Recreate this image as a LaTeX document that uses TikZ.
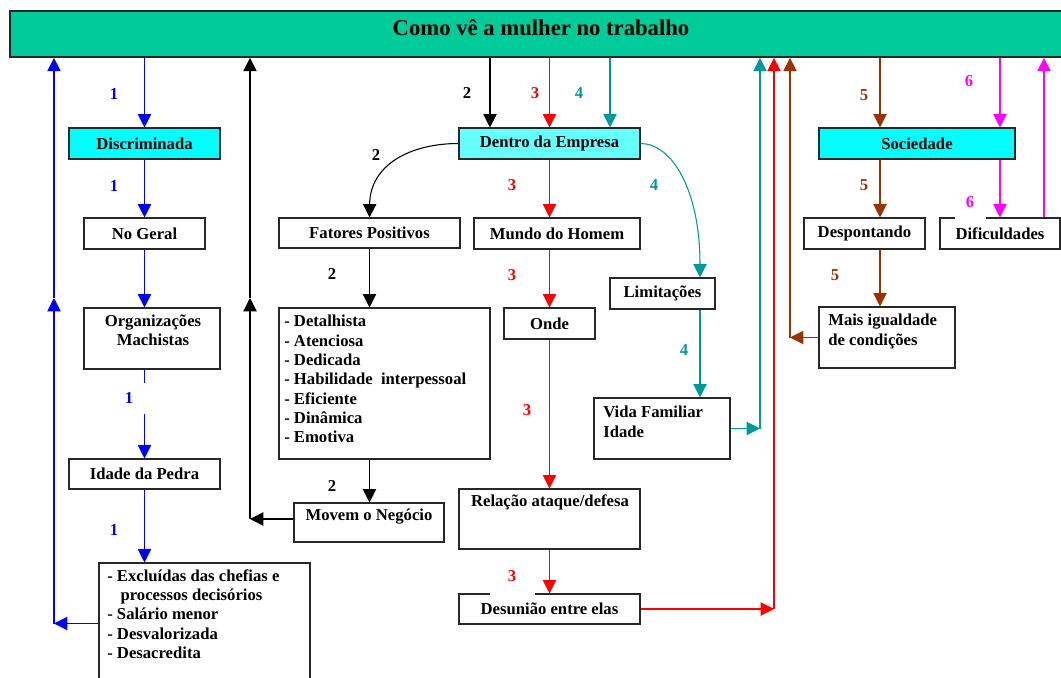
\documentclass[tikz,border=0pt]{standalone}
\usepackage{fontspec}
\setmainfont{Liberation Serif}
\usetikzlibrary{arrows.meta}
\definecolor{barfill}{RGB}{0,204,153}
\definecolor{cyanbox}{RGB}{0,255,255}
\definecolor{lightcyan}{RGB}{102,255,255}
\definecolor{tealc}{RGB}{0,153,153}
\definecolor{brownc}{RGB}{153,51,0}
\definecolor{magc}{RGB}{255,0,255}
\definecolor{bluec}{RGB}{0,0,255}
\definecolor{redc}{RGB}{255,0,0}
\definecolor{edge}{RGB}{40,40,40}
\begin{document}
\begin{tikzpicture}[x=0.75pt,y=-0.75pt,
  font=\fontsize{12.5}{14.5}\selectfont\bfseries,
  box/.style={draw=edge,line width=0.8pt,inner sep=0pt},
  sz/.style 2 args={minimum width=#1*0.75pt,minimum height=#2*0.75pt},
  con/.style={line width=0.8pt,-{Triangle[length=10pt,width=10pt]}},
  num/.style={inner sep=1pt},
  gapnum/.style={inner sep=0pt,fill=white},
  txt/.style={inner sep=0pt,align=left,anchor=north west}]
\useasboundingbox (0,0) rectangle (1061,678);
\clip (0,0) rectangle (1061,678);

% header bar
\node[draw=edge,line width=1.3pt,fill=barfill,sz={1060}{46},inner sep=0pt] (bar) at (540,34) {};
\node[font=\fontsize{17}{20}\selectfont\bfseries] (title) at (541,28) {Como vê a mulher no trabalho};

% left column
\node[box,fill=cyanbox,sz={151}{31}] (disc) at (144.5,143.5) {Discriminada};
\node[box,sz={121}{31}] (geral) at (144.5,233.5) {No Geral};
\node[box,sz={136}{61}] (org) at (152,338.5) {};
\node[inner sep=0pt,align=center] (orgt) at (153,330) {Organizações\\Machistas};
\node[box,sz={151}{30}] (idade) at (144.5,474) {Idade da Pedra};
\node[box,sz={211}{121}] (exc) at (204.5,623.5) {};
\node[txt] (exct) at (107,569) {- Excluídas das chefias e\\\hspace*{0.8em}processos decisórios\\- Salário menor\\- Desvalorizada\\- Desacredita};

% second column
\node[box,sz={181}{30}] (fat) at (369.5,233) {Fatores Positivos};
\node[box,sz={211}{151}] (list) at (384.5,383.5) {};
\node[txt] (listt) at (284,315) {- Detalhista\\- Atenciosa\\- Dedicada\\- Habilidade~ interpessoal\\- Eficiente\\- Dinâmica\\- Emotiva};
\node[box,sz={150}{39}] (movem) at (369,522.5) {};
\node[inner sep=0pt] (movemt) at (369,517) {Movem o Negócio};

% middle column
\node[box,fill=lightcyan,sz={181}{31}] (dentro) at (549.5,143.5) {Dentro da Empresa};
\node[box,sz={166}{31}] (mundo) at (557,233.5) {Mundo do Homem};
\node[box,sz={91}{31}] (onde) at (549.5,323.5) {Onde};
\node[box,sz={181}{60}] (rel) at (549.5,519) {};
\node[inner sep=0pt] (relt) at (550,502) {Relação ataque/defesa};
\node[box,sz={181}{30}] (des) at (549.5,609) {Desunião entre elas};
\node[box,sz={105}{31}] (lim) at (662.5,293.5) {Limitações};
\node[box,sz={136}{61}] (vida) at (662,428.5) {};
\node[txt] (vidat) at (603,406) {Vida Familiar\\Idade};

% right column
\node[box,fill=cyanbox,sz={196}{31}] (soc) at (917,143.5) {Sociedade};
\node[box,sz={121}{31}] (desp) at (864.5,233.5) {Despontando};
\node[box,sz={120}{31}] (dif) at (1000,233.5) {Dificuldades};
\node[box,sz={136}{61}] (mais) at (887,337.5) {};
\node[txt] (maist) at (828,314) {Mais igualdade\\de condições};

% routing points
\coordinate (bX) at (54,623.5);
\coordinate (bM) at (54,298);
\coordinate (kX) at (250,519);
\coordinate (kM) at (250,298);
\coordinate (k2) at (490,0);
\coordinate (t4) at (610,0);
\coordinate (tV) at (700,0);
\coordinate (tX) at (760,428.5);
\coordinate (rX) at (774,609);
\coordinate (nX) at (790,337.5);
\coordinate (b5) at (880,0);
\coordinate (m6) at (1000,0);
\coordinate (mR) at (1044,0);

% path 1 (blue)
\draw[con,bluec] (bar.south -| disc.north) -- (disc.north);
\draw[con,bluec] (disc.south) -- (geral.north);
\draw[con,bluec] (geral.south) -- (geral.south |- org.north);
\draw[con,bluec] (geral.south |- org.south) -- (geral.south |- idade.north);
\draw[con,bluec] (idade.south) -- (idade.south |- exc.north);
\draw[con,bluec] (exc.west) -- (bX);
\draw[con,bluec] (bX) -- (bM);
\draw[con,bluec] (bM) -- (bM |- bar.south);

% path 2 (black)
\draw[con] (bar.south -| k2) -- (k2 |- dentro.north);
\draw[con] (dentro.west) .. controls (410,143.5) and (370,165) .. (fat.north);
\draw[con] (fat.south) -- (fat.south |- list.north);
\draw[con] (fat.south |- list.south) -- (fat.south |- movem.north);
\draw[con] (movem.west |- kX) -- (kX);
\draw[con] (kX) -- (kM);
\draw[con] (kM) -- (kM |- bar.south);

% path 3 (red)
\draw[con,redc] (bar.south -| dentro.north) -- (dentro.north);
\draw[con,redc] (dentro.south) -- (dentro.south |- mundo.north);
\draw[con,redc] (dentro.south |- mundo.south) -- (onde.north);
\draw[con,redc] (onde.south) -- (rel.north);
\draw[con,redc] (rel.south) -- (des.north);
\draw[con,redc] (des.east) -- (rX);
\draw[con,redc] (rX) -- (rX |- bar.south);

% path 4 (teal)
\draw[con,tealc] (bar.south -| t4) -- (t4 |- dentro.north);
\draw[con,tealc] (dentro.east) .. controls (672,143.5) and (700,190) .. (tV |- lim.north);
\draw[con,tealc] (tV |- lim.south) -- (tV |- vida.north);
\draw[con,tealc] (vida.east) -- (tX);
\draw[con,tealc] (tX) -- (tX |- bar.south);

% path 5 (brown)
\draw[con,brownc] (bar.south -| b5) -- (b5 |- soc.north);
\draw[con,brownc] (b5 |- soc.south) -- (b5 |- desp.north);
\draw[con,brownc] (b5 |- desp.south) -- (b5 |- mais.north);
\draw[con,brownc] (mais.west) -- (nX);
\draw[con,brownc] (nX) -- (nX |- bar.south);

% path 6 (magenta)
\draw[con,magc] (bar.south -| m6) -- (m6 |- soc.north);
\draw[con,magc] (m6 |- soc.south) -- (dif.north);
\draw[con,magc] (mR |- dif.north) -- (mR |- bar.south);

% step numbers
\node[num,text=bluec] (n1a) at (114,94) {1};
\node[num,text=bluec] (n1b) at (114,186) {1};
\node[gapnum,text=bluec,sz={48}{31}] (n1c) at (129,398) {1};
\node[num,text=bluec] (n1d) at (114,530) {1};
\node[num] (n2a) at (467,93) {2};
\node[num] (n2b) at (376,155) {2};
\node[num] (n2c) at (332,274) {2};
\node[num] (n2d) at (332,486) {2};
\node[num,text=redc] (n3a) at (535,93) {3};
\node[num,text=redc] (n3b) at (512,185) {3};
\node[num,text=redc] (n3c) at (512,275) {3};
\node[num,text=redc] (n3d) at (527,410) {3};
\node[gapnum,text=redc,sz={45}{38}] (n3e) at (512,576) {3};
\node[num,text=tealc] (n4a) at (579,93) {4};
\node[num,text=tealc] (n4b) at (654,185) {4};
\node[num,text=tealc] (n4c) at (684,350) {4};
\node[num,text=brownc] (n5a) at (864,95) {5};
\node[num,text=brownc] (n5b) at (864,185) {5};
\node[num,text=brownc] (n5c) at (835,275) {5};
\node[num,text=magc] (n6a) at (969,81) {6};
\node[gapnum,text=magc,sz={31}{34}] (n6b) at (970,202) {6};
\end{tikzpicture}
\end{document}
